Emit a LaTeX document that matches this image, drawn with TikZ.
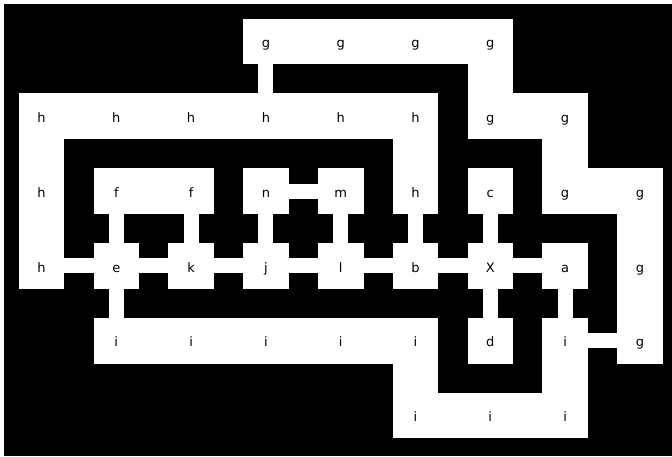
\documentclass[tikz,border=0pt]{standalone}
\usepackage{fontspec}
\setmainfont{DejaVu Sans}
\begin{document}
\begin{tikzpicture}[x=1pt,y=1pt,
  cell/.style={fill=white, draw=none, minimum size=45.6pt, inner sep=0pt, outer sep=0pt,
    font=\fontsize{13}{15}\selectfont, text=black, text height=12.5pt, text depth=0pt},
  wide/.style={draw=white, line width=45.6pt, shorten <=-1pt, shorten >=-1pt},
  narrow/.style={draw=white, line width=15pt, shorten <=-1pt, shorten >=-1pt}]
\useasboundingbox (0,0) rectangle (672,456);
\fill[white] (0,0) rectangle (672,456);
\fill[black] (4,0) rectangle (672,452);
\foreach \r/\c/\l in {
  0/3/g,0/4/g,0/5/g,0/6/g,
  1/0/h,1/1/h,1/2/h,1/3/h,1/4/h,1/5/h,1/6/g,1/7/g,
  2/0/h,2/1/f,2/2/f,2/3/n,2/4/m,2/5/h,2/6/c,2/7/g,2/8/g,
  3/0/h,3/1/e,3/2/k,3/3/j,3/4/l,3/5/b,3/6/X,3/7/a,3/8/g,
  4/1/i,4/2/i,4/3/i,4/4/i,4/5/i,4/6/d,4/7/i,4/8/g,
  5/5/i,5/6/i,5/7/i}
  \node[cell] (n\r\c) at ({41.5+74.8*\c},{414.5-74.8*\r}) {\l};
% merged cells of one region
\foreach \a/\b in {03/04,04/05,05/06,06/16,16/17,17/27,27/28,28/38,38/48,
  10/11,11/12,12/13,13/14,14/15,10/20,20/30,15/25,
  21/22,
  41/42,42/43,43/44,44/45,45/55,55/56,56/57,47/57}
  \draw[wide] (n\a) -- (n\b);
% connectors between regions
\foreach \a/\b in {03/13,30/31,21/31,22/32,23/24,23/33,24/34,25/35,26/36,
  31/32,32/33,33/34,34/35,35/36,36/37,31/41,36/46,37/47,47/48}
  \draw[narrow] (n\a) -- (n\b);
\end{tikzpicture}
\end{document}
